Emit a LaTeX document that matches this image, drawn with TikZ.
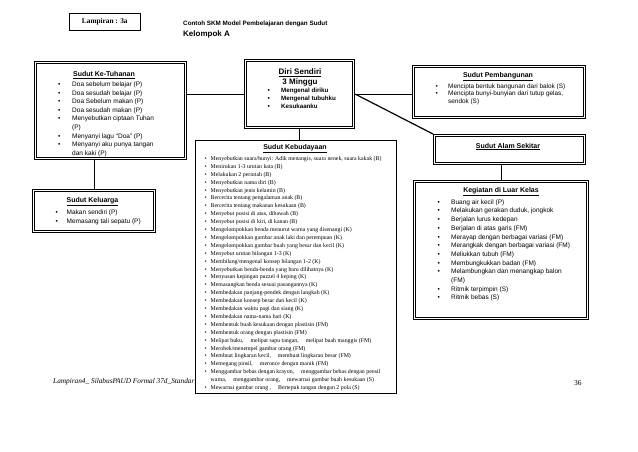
\documentclass[tikz,border=0pt]{standalone}
\usepackage{fontspec}
\setmainfont{Liberation Serif}
\setsansfont{Liberation Sans}
\newcommand\bi[2]{\makebox[#1][l]{\textbullet}#2}
\newcommand\gp{\hspace{7pt}}
\tikzset{
 dbox/.style={draw, line width=1.4pt, fill=white, inner sep=0pt, anchor=north west},
 sbox/.style={draw, line width=1.3pt, fill=white, inner sep=0pt, anchor=north west},
 conn/.style={line width=1.2pt},
 ttl/.style={inner sep=0pt, font=\sffamily\bfseries\fontsize{7}{8}\selectfont},
 lst/.style={inner sep=0pt, anchor=north west, align=left},
}
\newcommand\innerframe[1]{\draw[line width=0.5pt] ([shift={(2.7,2.7)}]#1.north west) rectangle ([shift={(-2.7,-2.7)}]#1.south east);}
\begin{document}
\begin{tikzpicture}[x=1pt,y=-1pt]
\useasboundingbox[fill=white] (0,0) rectangle (638,451);

% header
\node[draw, line width=0.6pt, inner sep=0pt, minimum width=71pt, minimum height=17pt, anchor=north west,
      font=\rmfamily\bfseries\fontsize{7.3}{8}\selectfont] (lamp) at (69,12.5) {Lampiran : 3a};
\node[inner sep=0pt, anchor=west, font=\sffamily\bfseries\fontsize{6.3}{7}\selectfont] (title) at (183,24) {Contoh SKM Model Pembelajaran dengan Sudut};
\node[inner sep=0pt, anchor=west, font=\sffamily\bfseries\fontsize{8}{9}\selectfont] (kelA) at (183,34) {Kelompok A};

% footer
\node[inner sep=0pt, anchor=west, font=\rmfamily\itshape\fontsize{7.3}{8}\selectfont] (foot) at (53,382) {Lampiran4\_ SilabusPAUD Formal 37d\_Standar d};
\node[inner sep=0pt, anchor=west, font=\rmfamily\fontsize{7.5}{8}\selectfont] (page) at (574,383) {36};

% boxes
\node[dbox, minimum width=152pt, minimum height=98pt] (tuhan) at (34,61) {};
\innerframe{tuhan}
\node[dbox, minimum width=110pt, minimum height=69pt] (diri) at (244,59) {};
\innerframe{diri}
\node[dbox, minimum width=173pt, minimum height=53pt] (pemb) at (412,65) {};
\innerframe{pemb}
\node[dbox, minimum width=152pt, minimum height=30pt] (alam) at (433,134) {};
\innerframe{alam}
\node[dbox, minimum width=175pt, minimum height=139pt] (keg) at (413,180) {};
\innerframe{keg}
\node[dbox, minimum width=123pt, minimum height=43pt] (kel) at (32,189) {};
\innerframe{kel}
\node[sbox, minimum width=201pt, minimum height=253pt] (keb) at (195,140) {};

% connectors
\draw[conn] (diri.west) -- (diri.west -| tuhan.east);
\draw[conn] (diri.east) -- (diri.east -| pemb.west);
\draw[conn] (diri.east) -- (alam.north west);
\draw[conn] (diri.south) -- (diri.south |- keb.north);
\draw[conn] (kel.north) -- (kel.north |- tuhan.south);
\draw[conn] (keg.north) -- (keg.north |- alam.south);

% Sudut Ke-Tuhanan
\node[ttl] (tuhanT) at (104,75) {\underline{Sudut Ke-Tuhanan}};
\node[lst, font=\sffamily\fontsize{6.5}{8.6}\selectfont] (tuhanL) at (58,81.5) {%
\bi{14pt}{Doa sebelum belajar (P)}\\
\bi{14pt}{Doa sesudah belajar (P)}\\
\bi{14pt}{Doa Sebelum makan (P)}\\
\bi{14pt}{Doa sesudah makan (P)}\\
\bi{14pt}{Menyebutkan ciptaan Tuhan}\\
\hspace*{14pt}(P)\\
\bi{14pt}{Menyanyi lagu ``Doa'' (P)}\\
\bi{14pt}{Menyanyi aku punya tangan}\\
\hspace*{14pt}dan kaki (P)};

% Diri Sendiri
\node[ttl, font=\sffamily\bfseries\fontsize{8}{9}\selectfont] (diriT) at (300,72.5) {\underline{Diri Sendiri}};
\node[ttl, font=\sffamily\bfseries\fontsize{8}{9}\selectfont] (diriM) at (300,82.5) {3 Minggu};
\node[lst, font=\sffamily\bfseries\fontsize{6.2}{8}\selectfont] (diriL) at (267.5,88.3) {%
\bi{13.5pt}{Mengenal diriku}\\
\bi{13.5pt}{Mengenal tubuhku}\\
\bi{13.5pt}{Kesukaanku}};

% Sudut Pembangunan
\node[ttl] (pembT) at (498,77) {\underline{Sudut Pembangunan}};
\node[lst, font=\sffamily\fontsize{6.4}{7.3}\selectfont] (pembL) at (435.5,83.8) {%
\bi{12.5pt}{Mencipta bentuk bangunan dari balok (S)}\\
\bi{12.5pt}{Mencipta bunyi-bunyian dari tutup gelas,}\\
\hspace*{12.5pt}sendok (S)};

% Sudut Alam Sekitar
\node[ttl] (alamT) at (508,146.5) {\underline{Sudut Alam Sekitar}};

% Kegiatan di Luar Kelas
\node[ttl] (kegT) at (501,192) {\underline{Kegiatan di Luar Kelas}};
\node[lst, font=\sffamily\fontsize{6.5}{8.7}\selectfont] (kegL) at (437.5,199.3) {%
\bi{13.5pt}{Buang air kecil (P)}\\
\bi{13.5pt}{Melakukan gerakan duduk, jongkok}\\
\bi{13.5pt}{Berjalan lurus kedepan}\\
\bi{13.5pt}{Berjalan di atas garis (FM)}\\
\bi{13.5pt}{Merayap dengan berbagai variasi (FM)}\\
\bi{13.5pt}{Merangkak dengan berbagai variasi (FM)}\\
\bi{13.5pt}{Meliukkan tubuh (FM)}\\
\bi{13.5pt}{Membungkukkan badan (FM)}\\
\bi{13.5pt}{Melambungkan dan menangkap balon}\\
\hspace*{13.5pt}(FM)\\
\bi{13.5pt}{Ritmik terpimpin (S)}\\
\bi{13.5pt}{Ritmik bebas (S)}};

% Sudut Keluarga
\node[ttl] (kelT) at (92.5,202) {\underline{Sudut Keluarga}};
\node[lst, font=\sffamily\fontsize{6.5}{8.8}\selectfont] (kelL) at (55.5,209.8) {%
\bi{11pt}{Makan sendiri (P)}\\
\bi{11pt}{Memasang tali sepatu (P)}};

% Sudut Kebudayaan
\node[ttl] (kebT) at (295,149) {\underline{Sudut Kebudayaan}};
\node[lst, font=\rmfamily\fontsize{5.85}{7.9}\selectfont] (kebL) at (204.5,156.2) {%
\bi{6pt}{Menyebutkan suara/bunyi: Adik menangis, suara nenek, suara kakak (B)}\\
\bi{6pt}{Menirukan 1-3 urutan kata (B)}\\
\bi{6pt}{Melakukan 2 perintah (B)}\\
\bi{6pt}{Menyebutkan nama diri (B)}\\
\bi{6pt}{Menyebutkan jenis kelamin (B)}\\
\bi{6pt}{Bercerita tentang pengalaman anak (B)}\\
\bi{6pt}{Bercerita tentang makanan kesukaan (B)}\\
\bi{6pt}{Menyebut posisi di atas, dibawah (B)}\\
\bi{6pt}{Menyebut posisi di kiri, di kanan (B)}\\
\bi{6pt}{Mengelompokkan benda menurut warna yang disenangi (K)}\\
\bi{6pt}{Mengelompokkan gambar anak laki dan perempuan (K)}\\
\bi{6pt}{Mengelompokkan gambar buah yang besar dan kecil (K)}\\
\bi{6pt}{Menyebut urutan bilangan 1-3 (K)}\\
\bi{6pt}{Membilang/mengenal konsep bilangan 1-2 (K)}\\
\bi{6pt}{Menyebutkan benda-benda yang baru dilihatnya (K)}\\
\bi{6pt}{Menyusun kepingan puzzel 4 keping (K)}\\
\bi{6pt}{Memasangkan benda sesuai pasangannya (K)}\\
\bi{6pt}{Membedakan panjang-pendek dengan langkah (K)}\\
\bi{6pt}{Membedakan konsep besar dan kecil (K)}\\
\bi{6pt}{Membedakan waktu pagi dan siang (K)}\\
\bi{6pt}{Membedakan nama-nama hari (K)}\\
\bi{6pt}{Membentuk buah kesukaan dengan plastisin (FM)}\\
\bi{6pt}{Membentuk orang dengan plastisin (FM)}\\
\bi{6pt}{Melipat buku,\gp melipat sapu tangan,\gp melipat buah manggis (FM)}\\
\bi{6pt}{Merobek/menempel gambar orang (FM)}\\
\bi{6pt}{Membuat lingkaran kecil,\gp membuat lingkaran besar (FM)}\\
\bi{6pt}{Memegang pinsil,\gp meronce dengan manik (FM)}\\
\bi{6pt}{Menggambar bebas dengan krayon,\gp menggambar bebas dengan pensil}\\
\hspace*{6pt}warna,\gp menggambar orang,\gp mewarnai gambar buah kesukaan (S)\\
\bi{6pt}{Mewarnai gambar orang ,\gp Bertepuk tangan dengan 2 pola (S)}};
\end{tikzpicture}
\end{document}
